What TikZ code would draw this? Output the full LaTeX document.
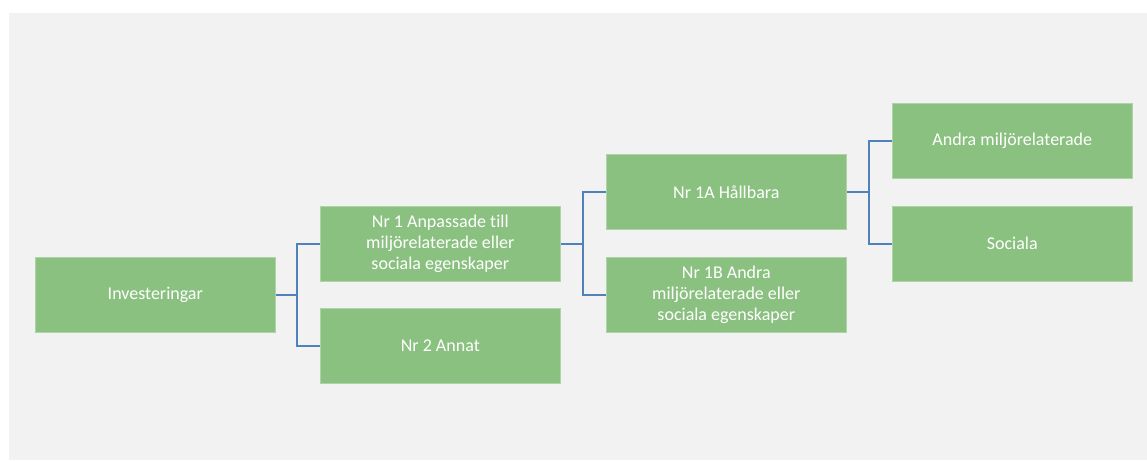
\documentclass[tikz,border=0pt]{standalone}
\usepackage{fontspec}
\setmainfont{Carlito}[Ligatures=NoCommon]
\definecolor{boxgreen}{RGB}{138,193,128}
\definecolor{linkblue}{RGB}{79,129,189}
\definecolor{bggray}{RGB}{242,242,242}
\begin{document}
\begin{tikzpicture}[x=1pt,y=-1pt,
  box/.style={fill=boxgreen, draw=boxgreen!70!white, line width=0.6pt, minimum width=240pt, minimum height=75pt,
    inner sep=0pt, text=white, align=center, font=\fontsize{18}{20.8}\selectfont, anchor=north west},
  link/.style={draw=linkblue, line width=2.6pt}]
\useasboundingbox (0,0) rectangle (1147,460);
\fill[bggray] (9,13) rectangle (1147,460);
\node[box] (inv) at (35,257) {Investeringar};
\node[box] (n1) at (320,206) {Nr 1 Anpassade till\\miljörelaterade eller\\sociala egenskaper};
\node[box] (n2) at (320,308) {Nr 2 Annat};
\node[box] (n1a) at (606,154) {Nr 1A Hållbara};
\node[box] (n1b) at (606,257) {Nr 1B Andra\\miljörelaterade eller\\sociala egenskaper};
\node[box] (am) at (892,103) {Andra miljörelaterade};
\node[box] (soc) at (892,206) {Sociala};
\coordinate (j1) at (297,0);
\coordinate (j2) at (583,0);
\coordinate (j3) at (869,0);
\draw[link] (inv.east) -- (inv.east -| j1);
\draw[link] (n1.west) -| (j1 |- inv.east) |- (n2.west);
\draw[link] (n1.east) -- (n1.east -| j2);
\draw[link] (n1a.west) -| (j2 |- n1.east) |- (n1b.west);
\draw[link] (n1a.east) -- (n1a.east -| j3);
\draw[link] (am.west) -| (j3 |- n1a.east) |- (soc.west);
\end{tikzpicture}
\end{document}
